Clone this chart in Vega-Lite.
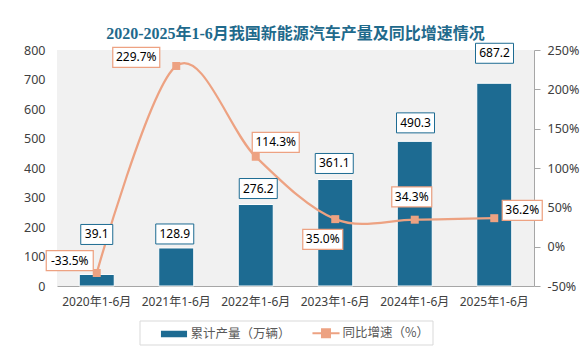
{
  "$schema": "https://vega.github.io/schema/vega-lite/v6.json",
  "width": 477,
  "height": 236,
  "autosize": "none",
  "padding": {"left": 57, "top": 50, "right": 54, "bottom": 77},
  "background": "white",
  "title": {
    "text": "2020-2025年1-6月我国新能源汽车产量及同比增速情况",
    "anchor": "middle",
    "frame": "group",
    "offset": 6,
    "dy": 23,
    "baseline": "bottom",
    "font": "Liberation Serif, Noto Sans CJK SC",
    "fontSize": 16,
    "fontWeight": "bold",
    "color": "#1f6a8c"
  },
  "config": {
    "view": {"fill": "#f1f1f1", "stroke": null},
    "font": "Noto Sans, Noto Sans CJK SC",
    "axis": {"labelOverlap": false},
    "legend": {
      "orient": "none",
      "legendX": 82.5,
      "legendY": 270.5,
      "direction": "horizontal",
      "strokeColor": "#d9d9d9",
      "fillColor": "white",
      "padding": 3,
      "labelFont": "Noto Sans CJK SC",
      "labelFontSize": 12.5,
      "labelColor": "#595959",
      "symbolSize": 276,
      "symbolOffset": 22,
      "labelOffset": 7,
      "columnPadding": 3,
      "symbolStrokeWidth": 2
    }
  },
  "data": {
    "values": [
      {"period": "2020年1-6月", "output": 39.1, "growth": -33.5},
      {"period": "2021年1-6月", "output": 128.9, "growth": 229.7},
      {"period": "2022年1-6月", "output": 276.2, "growth": 114.3},
      {"period": "2023年1-6月", "output": 361.1, "growth": 35.0},
      {"period": "2024年1-6月", "output": 490.3, "growth": 34.3},
      {"period": "2025年1-6月", "output": 687.2, "growth": 36.2}
    ]
  },
  "encoding": {
    "x": {
      "field": "period",
      "type": "nominal",
      "sort": null,
      "scale": {"paddingInner": 0.56, "paddingOuter": 0.28},
      "axis": {
        "title": null,
        "labelAngle": 0,
        "ticks": false,
        "domainColor": "#a6a6a6",
        "labelFontSize": 12,
        "labelColor": "#404040",
        "labelPadding": 10
      }
    }
  },
  "layer": [
    {
      "mark": {"type": "bar", "color": "#1d6b92", "stroke": "white", "strokeWidth": 1},
      "encoding": {
        "y": {
          "field": "output",
          "type": "quantitative",
          "scale": {"domain": [0, 800], "nice": false},
          "axis": {
            "title": null,
            "orient": "left",
            "values": [0, 100, 200, 300, 400, 500, 600, 700, 800],
            "labelOverlap": false,
            "domain": false,
            "ticks": false,
            "grid": false,
            "labelFontSize": 12.5,
            "labelColor": "#404040",
            "labelPadding": 12
          }
        },
        "color": {
          "datum": "累计产量（万辆）",
          "scale": {
            "domain": ["累计产量（万辆）", "同比增速（%）"],
            "range": ["#1d6b92", "#eda282"]
          },
          "legend": {
            "title": null,
            "labelExpr": "datum.value === '同比增速（%）' ? datum.label + '\u3000\u2002' : datum.label",
            "encoding": {
              "symbols": {
                "shape": {
                  "condition": {"test": "datum.value === '累计产量（万辆）'", "value": "M-1.45,-0.27H1.45V0.27H-1.45Z"},
                  "value": "M-1.63,0H1.63M-0.48,-0.48H0.48V0.48H-0.48Z"
                },
                "fill": {
                  "condition": {"test": "datum.value === '累计产量（万辆）'", "value": "#1d6b92"},
                  "value": "#eda282"
                },
                "stroke": {
                  "condition": {"test": "datum.value === '累计产量（万辆）'", "value": "transparent"},
                  "value": "#eda282"
                },
                "opacity": {"value": 1},
                "fillOpacity": {"value": 1},
                "strokeWidth": {"value": 2}
              }
            }
          }
        }
      }
    },
    {
      "encoding": {
        "y": {
          "field": "growth",
          "type": "quantitative",
          "scale": {"domain": [-50, 250], "nice": false},
          "axis": {
            "title": null,
            "orient": "right",
            "values": [-50, 0, 50, 100, 150, 200, 250],
            "labelExpr": "datum.value + '%'",
            "labelOverlap": false,
            "domain": true,
            "domainColor": "#a6a6a6",
            "ticks": true,
            "tickColor": "#a6a6a6",
            "tickSize": 6,
            "grid": false,
            "labelFontSize": 12.5,
            "labelColor": "#404040",
            "labelPadding": 7
          }
        }
      },
      "layer": [
        {
          "mark": {"type": "line", "interpolate": "cardinal", "strokeWidth": 2.25},
          "encoding": {
            "color": {"datum": "同比增速（%）"}
          }
        },
        {
          "mark": {"type": "point", "shape": "square", "size": 64, "filled": true, "opacity": 1, "color": "#eda282"},
          "encoding": {}
        }
      ]
    },
    {
      "encoding": {
        "y": {"field": "output", "type": "quantitative", "scale": {"domain": [0, 800], "nice": false}, "axis": null}
      },
      "layer": [
        {
          "mark": {
            "type": "point",
            "filled": true,
            "fill": "white",
            "stroke": "#1d6b92",
            "strokeWidth": 1,
            "opacity": 1,
            "fillOpacity": 1,
            "strokeOpacity": 1,
            "size": 4,
            "shape": {"expr": "'M'+([0,-1.5,2.5,-1,0.75,0.25][toNumber(slice(datum.period,0,4))-2020]-(6*length(format(datum.output,'.1f'))+8)/2)+','+([-40,-14,-16,-16,-18.5,-30][toNumber(slice(datum.period,0,4))-2020]-10)+'h'+(6*length(format(datum.output,'.1f'))+8)+'v20h'+(-(6*length(format(datum.output,'.1f'))+8))+'z'"}
          },
          "encoding": {}
        },
        {
          "mark": {
            "type": "text",
            "fontSize": 12,
            "font": "Noto Sans",
            "color": "#000000",
            "dx": {"expr": "[0,-1.5,2.5,-1,0.75,0.25][toNumber(slice(datum.period,0,4))-2020]"},
            "dy": {"expr": "[-40,-14,-16,-16,-18.5,-30][toNumber(slice(datum.period,0,4))-2020]"}
          },
          "encoding": {
            "text": {"field": "output", "type": "quantitative", "format": ".1f"}
          }
        }
      ]
    },
    {
      "encoding": {
        "y": {"field": "growth", "type": "quantitative", "scale": {"domain": [-50, 250], "nice": false}, "axis": null}
      },
      "layer": [
        {
          "mark": {
            "type": "point",
            "filled": true,
            "fill": "white",
            "stroke": "#eda282",
            "strokeWidth": 1.25,
            "opacity": 1,
            "fillOpacity": 1,
            "strokeOpacity": 1,
            "size": 4,
            "shape": {"expr": "'M'+([-27,-40,20,-12.5,-3,28][toNumber(slice(datum.period,0,4))-2020]-(7*length(format(datum.growth,'.1f')+'%')+5)/2)+','+([-12.5,-8.5,-14.5,20.3,-22.7,-7.7][toNumber(slice(datum.period,0,4))-2020]-10)+'h'+(7*length(format(datum.growth,'.1f')+'%')+5)+'v20h'+(-(7*length(format(datum.growth,'.1f')+'%')+5))+'z'"}
          },
          "encoding": {}
        },
        {
          "mark": {
            "type": "text",
            "fontSize": 12,
            "font": "Noto Sans",
            "color": "#000000",
            "text": {"expr": "(datum.growth < 0 ? '-' : '') + format(abs(datum.growth),'.1f') + '%'"},
            "dx": {"expr": "[-27,-40,20,-12.5,-3,28][toNumber(slice(datum.period,0,4))-2020]"},
            "dy": {"expr": "[-12.5,-8.5,-14.5,20.3,-22.7,-7.7][toNumber(slice(datum.period,0,4))-2020]"}
          },
          "encoding": {}
        }
      ]
    }
  ],
  "resolve": {"scale": {"y": "independent"}}
}
